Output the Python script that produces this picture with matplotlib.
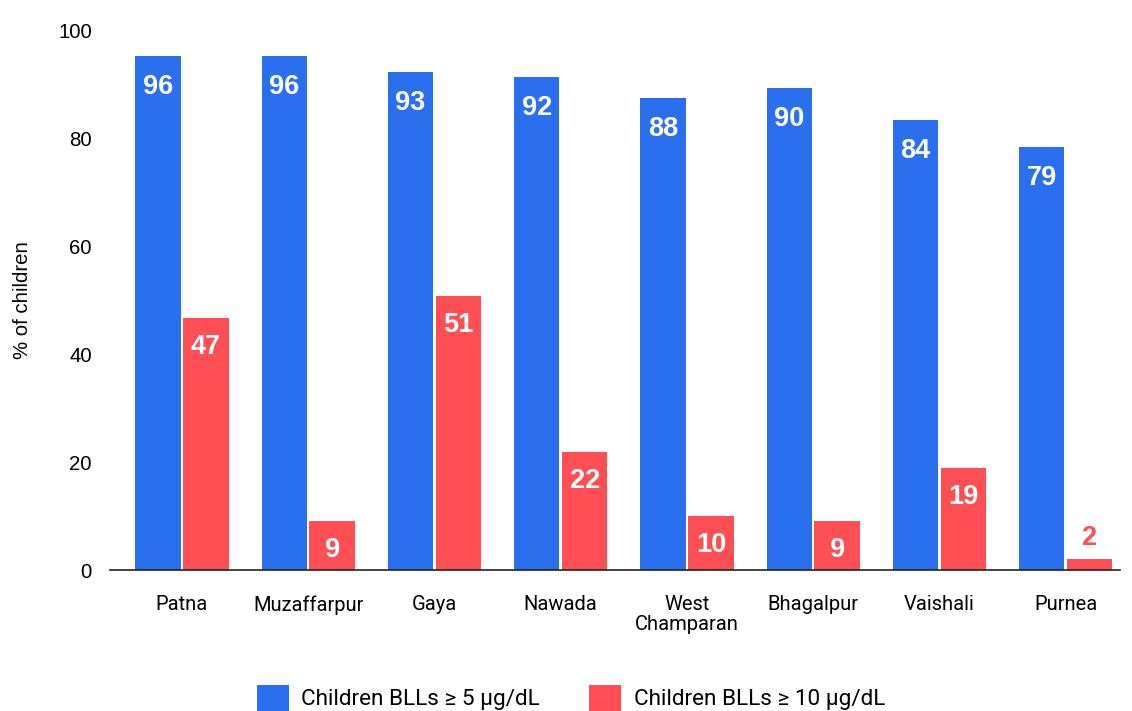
import matplotlib
matplotlib.use("Agg")
import matplotlib.pyplot as plt
import numpy as np

districts = ["Patna", "Muzaffarpur", "Gaya", "Nawada", "West\nChamparan", "Bhagalpur", "Vaishali", "Purnea"]
# bar heights
bll5 = [95.4, 95.4, 92.4, 91.5, 87.6, 89.4, 83.5, 78.5]
bll10 = [46.8, 9.1, 50.8, 21.9, 10.0, 9.1, 18.9, 2.0]
# printed value labels
bll5_labels = ["96", "96", "93", "92", "88", "90", "84", "79"]
bll10_labels = ["47", "9", "51", "22", "10", "9", "19", "2"]
series_names = ["Children BLLs \u2265 5 \u03bcg/dL", "Children BLLs \u2265 10 \u03bcg/dL"]
yticks = [0, 20, 40, 60, 80, 100]

blue = "#2A6FEE"
red = "#FF4F55"

plt.rcParams['font.family'] = ['Liberation Sans', 'DejaVu Sans']

fig = plt.figure(figsize=(11.32, 7.11), dpi=100)
ax = fig.add_axes([110/1132, 1 - 570/711, (1120-110)/1132, (570-31)/711])

x = np.arange(len(districts))
w = 0.36
off = 0.19
b1 = ax.bar(x - off, bll5, w, color=blue, label=series_names[0])
b2 = ax.bar(x + off, bll10, w, color=red, label=series_names[1])

for bars, vals, labs, col, dy in ((b1, bll5, bll5_labels, blue, -31), (b2, bll10, bll10_labels, red, -29)):
    for rect, v, lab in zip(bars, vals, labs):
        cx = rect.get_x() + rect.get_width() / 2
        if v >= 5:
            ax.annotate(lab, (cx, v), xytext=(0, dy), textcoords="offset pixels",
                        ha="center", va="center", color="white", fontsize=19.5, fontweight="bold")
        else:
            ax.annotate(lab, (cx, v), xytext=(0, 21), textcoords="offset pixels",
                        ha="center", va="center", color=col, fontsize=19.5, fontweight="bold")

ax.set_ylim(0, 100)
ax.set_xlim(-0.57, 7.43)
ax.set_yticks(yticks)
ax.set_xticks(x)
ax.set_xticklabels(districts, fontsize=14.5, family=['Roboto', 'DejaVu Sans'])
ax.tick_params(axis="y", labelsize=14.7, length=0, pad=13)
ax.tick_params(axis="x", length=0, pad=18)
for lab in ax.get_xticklabels():
    lab.set_linespacing(1.05)
ax.set_ylabel("% of children", fontsize=14.7, labelpad=19)
for s in ("top", "right", "left"):
    ax.spines[s].set_visible(False)
ax.spines["bottom"].set_color("#222222")
ax.spines["bottom"].set_linewidth(1.2)

fig.legend(handles=[b1, b2], labels=series_names, loc="center", bbox_to_anchor=(571/1132, 1 - 698/711),
           ncol=2, frameon=False, prop={'family': ['Roboto', 'DejaVu Sans'], 'size': 16.2},
           handlelength=1.42, handleheight=1.45, columnspacing=2.2, handletextpad=0.55)

fig.savefig("out.png", dpi=100)
